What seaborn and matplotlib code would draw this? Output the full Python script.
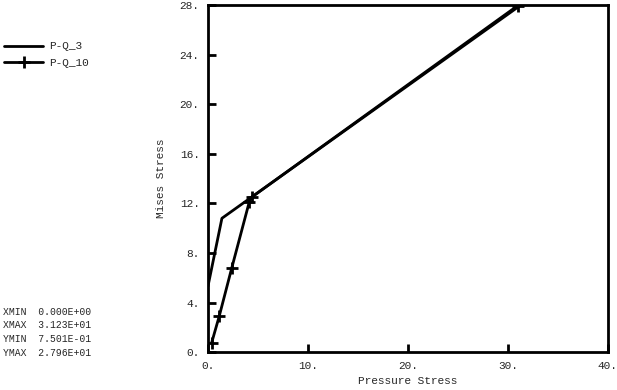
import pandas as pd
import matplotlib.pyplot as plt
import seaborn as sns

# curve data
pq3_x = [0.0, 1.4, 31.23]
pq3_y = [5.3, 10.8, 27.96]
pq10_x = [0.37, 1.13, 2.37, 4.13, 4.37, 31.0]
pq10_y = [0.75, 2.9, 6.75, 12.1, 12.5, 27.96]

xticks = [0, 10, 20, 30, 40]
yticks = [0, 4, 8, 12, 16, 20, 24, 28]
info = ["XMIN  0.000E+00", "XMAX  3.123E+01", "YMIN  7.501E-01", "YMAX  2.796E+01"]

sns.set_style("white")
plt.rcParams['font.family'] = ['Liberation Mono', 'DejaVu Sans Mono']

df3 = pd.DataFrame({'x': pq3_x, 'y': pq3_y})
df10 = pd.DataFrame({'x': pq10_x, 'y': pq10_y})

fig = plt.figure(figsize=(6.17, 3.9), dpi=100)
ax = fig.add_axes([0.337, 0.097, 0.648, 0.89])

sns.lineplot(x='x', y='y', data=df3, sort=False, color='black', lw=2, ax=ax, label='P-Q_3')
sns.lineplot(x='x', y='y', data=df10, sort=False, color='black', lw=2, ax=ax,
             marker='+', markersize=8, markeredgewidth=2, markeredgecolor='black',
             label='P-Q_10')

ax.set_xlim(0, 40)
ax.set_ylim(0, 28)
ax.set_xticks(xticks)
ax.set_yticks(yticks)
ax.set_xticklabels([f"{t}." for t in xticks], fontsize=8)
ax.set_yticklabels([f"{t}." for t in yticks], fontsize=8)
ax.tick_params(bottom=True, left=True, direction='in', length=6, width=2, pad=6,
               color='black')
for s in ax.spines.values():
    s.set_visible(True)
    s.set_color('black')
    s.set_linewidth(2)
ax.set_xlabel('Pressure Stress', fontsize=8, labelpad=4)
ax.set_ylabel('Mises Stress', fontsize=8, labelpad=10)

handles, labels = ax.get_legend_handles_labels()
ax.get_legend().remove()
fig.legend(handles, labels, loc='upper left', bbox_to_anchor=(0.0, 0.905), frameon=False,
           fontsize=8, handlelength=3.5, handletextpad=0.5, labelspacing=0.6, borderaxespad=0)

for i, t in enumerate(info):
    fig.text(0.005, 1 - (312 + i * 13.5) / 390, t, fontsize=7, va='center', ha='left')

fig.savefig('out.png', dpi=100)
